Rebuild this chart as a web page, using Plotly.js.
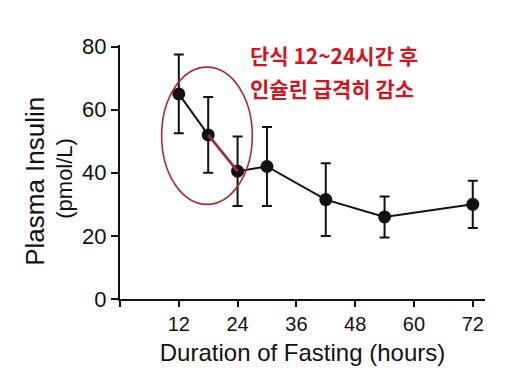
<!DOCTYPE html>
<html>
<head>
<meta charset="utf-8">
<script src="https://cdn.plot.ly/plotly-3.0.1.min.js"></script>
<style>html,body{margin:0;padding:0;background:#fff;}#chart{width:526px;height:385px;}</style>
</head>
<body>
<div id="chart"></div>
<script>
const hours = [12, 18, 24, 30, 42, 54, 72];
const insulin = [65, 52, 40.5, 42, 31.5, 26, 30];
const errorSE = [12.5, 12, 11, 12.5, 11.5, 6.5, 7.5];
const xTickVals = [0, 12, 24, 36, 48, 60, 72];
const xTickText = ['', '12', '24', '36', '48', '60', '72'];
const yTickVals = [0, 20, 40, 60, 80];
const highlightIdx = [1, 2];
const noteLines = ['단식 12~24시간 후', '인슐린 급격히 감소'];
const yTitleLines = ['Plasma Insulin', '(pmol/L)'];
const xTitle = 'Duration of Fasting (hours)';

const font = 'Liberation Sans, Arial, sans-serif';

const traces = [
  {
    x: hours, y: insulin, type: 'scatter', mode: 'lines+markers',
    line: {color: '#111', width: 2},
    marker: {color: '#111', size: 13},
    error_y: {type: 'data', array: errorSE, visible: true, color: '#111', thickness: 2, width: 5},
    showlegend: false, hoverinfo: 'skip'
  },
  {
    x: highlightIdx.map(i => hours[i]), y: highlightIdx.map(i => insulin[i]),
    type: 'scatter', mode: 'lines',
    line: {color: 'rgba(190,50,90,0.75)', width: 3},
    showlegend: false, hoverinfo: 'skip'
  }
];

const noteFont = {family: 'Noto Sans CJK KR', size: 21, color: '#d4141c', weight: 'bold'};

const layout = {
  width: 526, height: 385,
  margin: {l: 120, r: 41, t: 45, b: 86},
  paper_bgcolor: '#fff', plot_bgcolor: '#fff',
  font: {family: font, color: '#111'},
  xaxis: {
    range: [0, 74.5], tickvals: xTickVals, ticktext: xTickText,
    showgrid: false, zeroline: false, showline: true, linecolor: '#111', linewidth: 2,
    ticks: 'outside', ticklen: 6, tickwidth: 2, tickcolor: '#111',
    tickfont: {size: 20, family: font, color: '#111'},
    title: {text: xTitle, font: {size: 24, family: font, color: '#111'}, standoff: 10}
  },
  yaxis: {
    range: [0, 80.5], tickvals: yTickVals,
    showgrid: false, zeroline: false, showline: true, linecolor: '#111', linewidth: 2,
    ticks: 'outside', ticklen: 7, tickwidth: 2, tickcolor: '#111',
    tickfont: {size: 22, family: font, color: '#111'}
  },
  shapes: [
    {type: 'circle', xref: 'x', yref: 'y', x0: 8.5, x1: 27, y0: 30, y1: 73.5,
     line: {color: '#b02a30', width: 1.6}, fillcolor: 'rgba(0,0,0,0)'}
  ],
  annotations: [
    {text: noteLines[0], xref: 'x', yref: 'y', x: 26.3, y: 77.2, xanchor: 'left', yanchor: 'middle',
     showarrow: false, borderpad: 0, font: noteFont},
    {text: noteLines[1], xref: 'x', yref: 'y', x: 26.3, y: 67.0, xanchor: 'left', yanchor: 'middle',
     showarrow: false, borderpad: 0, font: noteFont},
    {text: yTitleLines[0], xref: 'paper', yref: 'paper', x: -0.233, y: 0.465, xanchor: 'center', yanchor: 'middle',
     textangle: -90, showarrow: false, font: {size: 26, family: font, color: '#111'}},
    {text: yTitleLines[1], xref: 'paper', yref: 'paper', x: -0.153, y: 0.474, xanchor: 'center', yanchor: 'middle',
     textangle: -90, showarrow: false, font: {size: 22, family: font, color: '#111'}}
  ]
};

Plotly.newPlot('chart', traces, layout, {displayModeBar: false, staticPlot: true});
</script>
</body>
</html>
